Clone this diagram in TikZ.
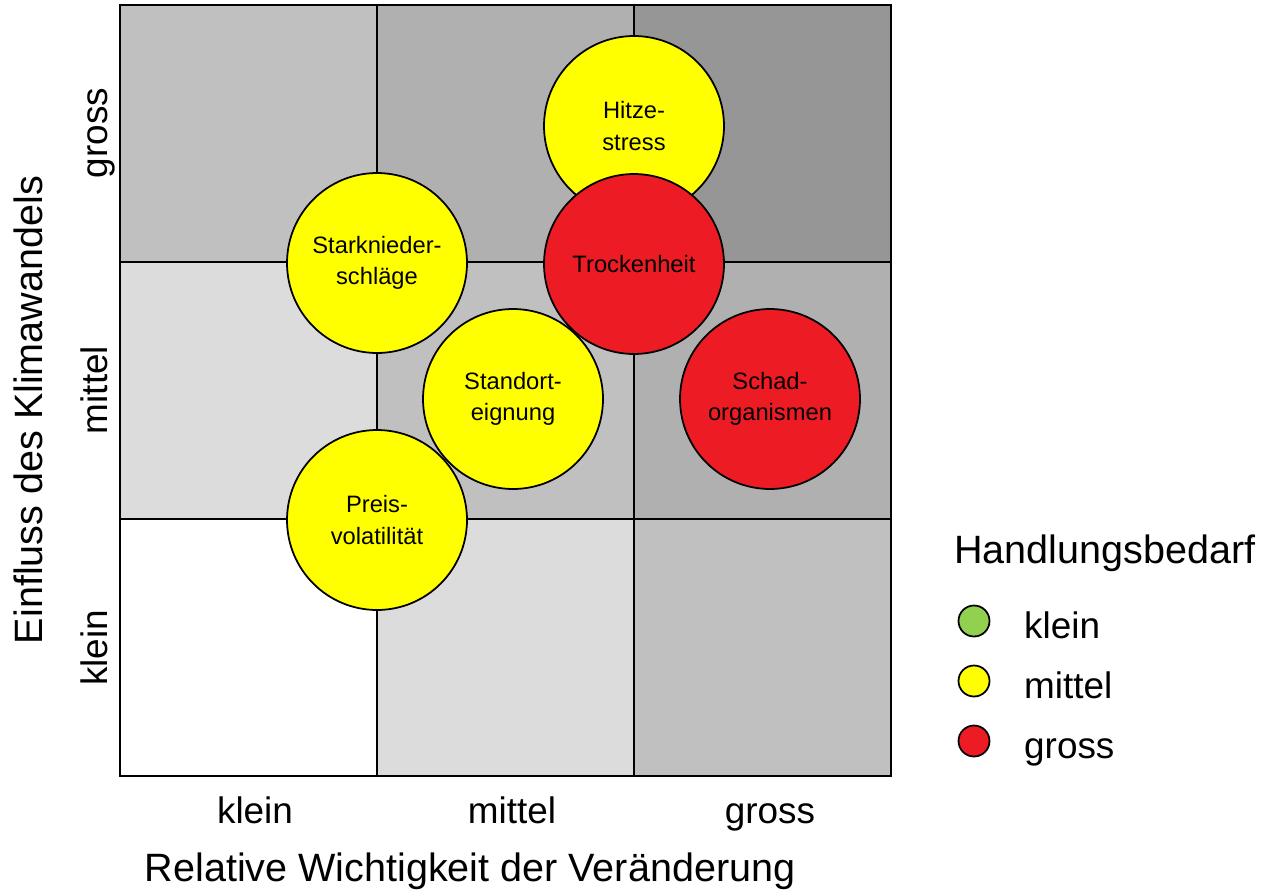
\documentclass[tikz,border=0pt]{standalone}
\usepackage{fontspec}
\setmainfont{Liberation Sans}
\definecolor{grauA}{HTML}{DCDCDC}
\definecolor{grauB}{HTML}{C0C0C0}
\definecolor{grauC}{HTML}{B0B0B0}
\definecolor{grauD}{HTML}{969696}
\definecolor{gelb}{HTML}{FFFF00}
\definecolor{rot}{HTML}{ED1C24}
\definecolor{gruen}{HTML}{92D050}
\begin{document}
\begin{tikzpicture}[x=0.02cm, y=-0.02cm,
    feld/.style={draw, line width=1pt},
    blase/.style={circle, draw, line width=1pt, minimum size=3.6cm, inner sep=0pt,
      align=center, font=\fontsize{13.5}{18}\selectfont},
    punkt/.style={circle, draw, line width=1pt, minimum size=0.62cm, inner sep=0pt},
    achse/.style={font=\fontsize{22.5}{27}\selectfont, anchor=base},
    stufe/.style={font=\fontsize{21}{25}\selectfont, anchor=base}]
  \useasboundingbox (0, 0) rectangle (1264, 892);
  % Raster
  \foreach \i/\j/\c in {0/0/grauB, 1/0/grauC, 2/0/grauD,
                        0/1/grauA, 1/1/grauB, 2/1/grauC,
                        0/2/white, 1/2/grauA, 2/2/grauB}
    \draw[feld, fill=\c] (120+257*\i, 5+257*\j) rectangle ++(257, 257);
  % Risiken
  \node[blase, fill=gelb] (hitze) at (634, 126) {Hitze-\\stress};
  \node[blase, fill=rot] (trocken) at (634, 264) {Trockenheit};
  \node[blase, fill=gelb] (stark) at (377, 263) {Starknieder-\\schläge};
  \node[blase, fill=gelb] (standort) at (513, 399) {Standort-\\eignung};
  \node[blase, fill=rot] (schad) at (770, 399) {Schad-\\organismen};
  \node[blase, fill=gelb] (preis) at (377, 520) {Preis-\\volatilität};
  % Achsen
  \node[stufe] (xk) at (255, 823) {klein};
  \node[stufe] (xm) at (512, 823) {mittel};
  \node[stufe] (xg) at (770, 823) {gross};
  \node[achse] (xt) at (470, 881) {Relative Wichtigkeit der Veränderung};
  \node[stufe, rotate=90] (yg) at (107, 133) {gross};
  \node[stufe, rotate=90] (ym) at (107, 390) {mittel};
  \node[stufe, rotate=90] (yk) at (107, 648) {klein};
  \node[achse, rotate=90] (yt) at (42, 410) {Einfluss des Klimawandels};
  % Legende
  \node[achse, anchor=base west] (lt) at (948, 563) {Handlungsbedarf};
  \node[punkt, fill=gruen] (lk) at (974, 621) {};
  \node[punkt, fill=gelb] (lm) at (974, 681) {};
  \node[punkt, fill=rot] (lg) at (974, 741) {};
  \node[stufe, anchor=base west] at (1018, 638) {klein};
  \node[stufe, anchor=base west] at (1018, 698) {mittel};
  \node[stufe, anchor=base west] at (1018, 758) {gross};
\end{tikzpicture}
\end{document}
